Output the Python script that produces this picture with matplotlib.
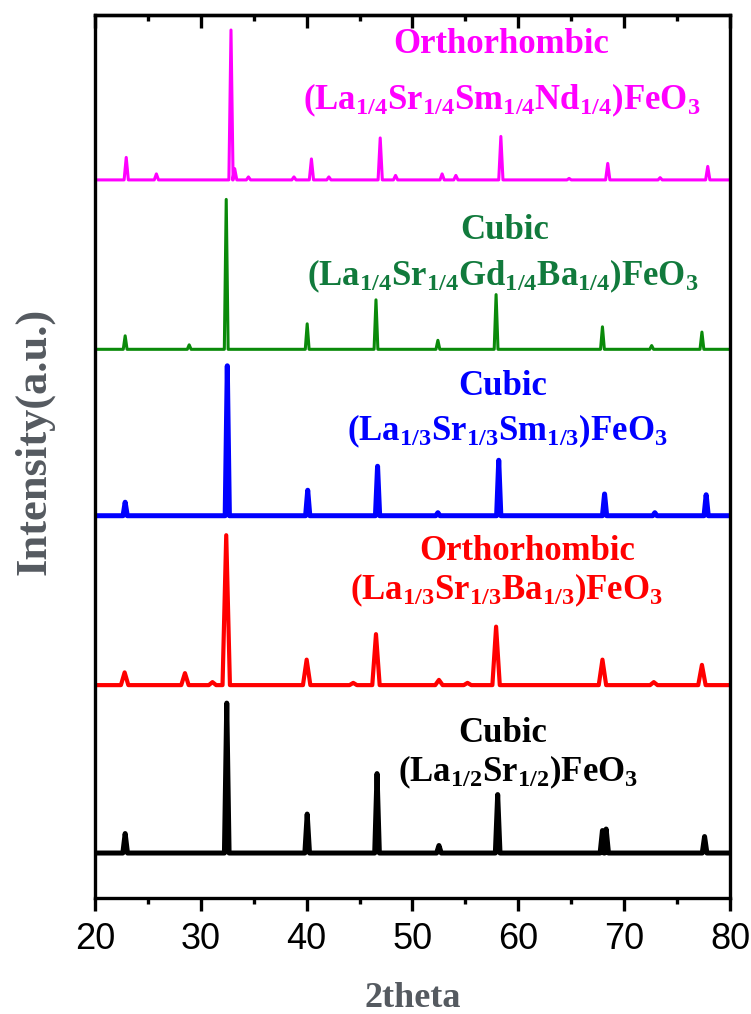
import numpy as np
import matplotlib.pyplot as plt
import matplotlib as mpl

mpl.rcParams["mathtext.fontset"] = "custom"
mpl.rcParams["mathtext.rm"] = "Liberation Serif:bold"
mpl.rcParams["mathtext.it"] = "Liberation Serif:bold"
mpl.rcParams["mathtext.bf"] = "Liberation Serif:bold"

# peak positions (2theta) and heights (main peak = 100)
black_pos = [22.85, 32.45, 40.05, 46.65, 52.5, 58.05, 67.95, 68.3, 77.6]
black_h = [13, 100, 26, 53, 5, 39, 15, 16, 11]

red_pos = [22.8, 28.5, 31.1, 32.4, 40.0, 44.4, 46.55, 52.5, 55.2, 57.9, 67.95, 72.8, 77.35]
red_h = [8.5, 8, 2, 100, 17, 1.5, 34, 3.5, 1.5, 39, 17, 2, 13.5]

blue_pos = [22.85, 32.5, 40.1, 46.7, 52.4, 58.15, 68.15, 72.9, 77.75]
blue_h = [9, 100, 17, 33, 2, 37, 14.5, 2, 14]

green_pos = [22.85, 28.9, 32.4, 40.05, 46.55, 52.4, 57.9, 67.95, 72.6, 77.35]
green_h = [9, 3, 100, 17, 33, 6, 36.5, 15, 2.5, 11.5]

magenta_pos = [22.95, 25.8, 32.85, 33.2, 34.5, 38.8, 40.45, 42.1, 46.95, 48.4, 52.8, 54.1, 58.35, 64.8, 68.45, 73.4, 77.9]
magenta_h = [15, 4, 100, 7.5, 2, 2, 14, 2, 28, 3, 4, 3, 29, 1, 11, 1.5, 9]

offsets = [30, 142, 255, 366, 479]
half_widths = [0.22, 0.35, 0.2, 0.18, 0.2]
colors = ["black", "#ff0000", "#0000ff", "#0a8a0a", "#ff00ff"]
line_w = [3.6, 3.0, 3.6, 2.2, 2.2]

phase = ["Cubic", "Orthorhombic", "Cubic", "Cubic", "Orthorhombic"]
formula = [
    r"$\mathrm{(La_{1/2}Sr_{1/2})FeO_3}$",
    r"$\mathrm{(La_{1/3}Sr_{1/3}Ba_{1/3})FeO_3}$",
    r"$\mathrm{(La_{1/3}Sr_{1/3}Sm_{1/3})FeO_3}$",
    r"$\mathrm{(La_{1/4}Sr_{1/4}Gd_{1/4}Ba_{1/4})FeO_3}$",
    r"$\mathrm{(La_{1/4}Sr_{1/4}Sm_{1/4}Nd_{1/4})FeO_3}$",
]
text_colors = ["black", "#ff0000", "#0000ff", "#117a3c", "#ff00ff"]
phase_xy = [(58.55, 110), (60.8, 231), (58.55, 341), (58.7, 445), (58.4, 569)]
formula_xy = [(60.0, 84), (58.9, 205), (59.0, 311), (58.55, 415), (58.4, 532)]

pos_all = [black_pos, red_pos, blue_pos, green_pos, magenta_pos]
h_all = [black_h, red_h, blue_h, green_h, magenta_h]

fig = plt.figure(figsize=(7.51, 10.14), dpi=100)
ax = fig.add_axes([0.1265, 0.1144, 0.8455, 0.8708])

for i in range(5):
    xs = [20.0]
    ys = [0.0]
    w = half_widths[i]
    for p, h in zip(pos_all[i], h_all[i]):
        xs += [p - w, p, p + w]
        ys += [0.0, h, 0.0]
    xs.append(80.0)
    ys.append(0.0)
    ax.plot(xs, np.array(ys) + offsets[i], color=colors[i], lw=line_w[i],
            solid_joinstyle="round")
    ax.text(*phase_xy[i], phase[i], color=text_colors[i], ha="center", va="center",
            fontsize=25, family="Liberation Serif", weight="bold")
    ax.text(*formula_xy[i], formula[i], color=text_colors[i], ha="center", va="center",
            fontsize=25)

ax.set_xlim(20, 80)
ax.set_ylim(0, 589)
ax.set_xticks([20, 30, 40, 50, 60, 70, 80])
ax.set_xticks([25, 35, 45, 55, 65, 75], minor=True)
ax.set_yticks([])
for s in ax.spines.values():
    s.set_linewidth(2.4)
ax.tick_params(axis="x", which="major", direction="out", length=9, width=2.4,
               labelsize=26, pad=8)
ax.tick_params(axis="x", which="minor", direction="out", length=4.5, width=2.4)
for lab in ax.get_xticklabels():
    lab.set_family("Liberation Sans")

top = ax.secondary_xaxis("top")
top.set_xticks([20, 30, 40, 50, 60, 70, 80])
top.set_xticks([25, 35, 45, 55, 65, 75], minor=True)
top.tick_params(which="major", direction="in", length=9, width=2.4, labeltop=False)
top.tick_params(which="minor", direction="in", length=4.5, width=2.4)
top.spines["top"].set_linewidth(2.4)

ax.set_xlabel("2theta", family="Liberation Serif", weight="bold", fontsize=26,
              color="#555a60", labelpad=18)
ax.set_ylabel("Intensity(a.u.)", family="Liberation Serif", weight="bold", fontsize=32,
              color="#555a60")
ax.yaxis.set_label_coords(-0.063, 0.517)

fig.savefig("out.png", dpi=100)
